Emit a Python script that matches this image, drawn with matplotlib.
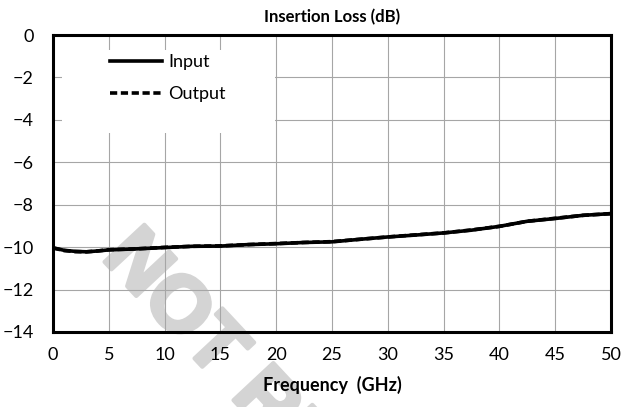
import numpy as np
import matplotlib
matplotlib.use('Agg')
import matplotlib.pyplot as plt
import matplotlib.patheffects as pe
from matplotlib.patches import Rectangle

plt.rcParams['font.family'] = ['Lato', 'DejaVu Sans']

# Tần số (GHz) và suy hao (dB)
FREQ = [0, 1, 2, 3, 4, 5, 7.5, 10, 12.5, 15, 17.5, 20, 22.5, 25, 27.5,
        30, 32.5, 35, 37.5, 40, 42.5, 45, 47.5, 50]
IL_INPUT = [-10.03, -10.15, -10.20, -10.22, -10.18, -10.13, -10.08, -10.02,
            -9.96, -9.95, -9.88, -9.84, -9.78, -9.75, -9.63, -9.52, -9.43,
            -9.33, -9.20, -9.02, -8.78, -8.65, -8.50, -8.42]
IL_OUTPUT = [-10.04, -10.16, -10.21, -10.22, -10.18, -10.12, -10.08, -10.01,
             -9.96, -9.94, -9.88, -9.83, -9.78, -9.74, -9.63, -9.52, -9.42,
             -9.33, -9.19, -9.02, -8.78, -8.64, -8.50, -8.42]

XTICKS = list(range(0, 51, 5))
YTICKS = list(range(-14, 1, 2))

fig = plt.figure(figsize=(6.23, 4.07), dpi=100)
fig.patch.set_facecolor('white')

# watermark phía sau mọi thứ
fig.text(0.162, 0.366, 'NOT RECOMMENDED', rotation=-47, rotation_mode='anchor',
         ha='left', va='baseline', fontsize=57, fontweight='bold',
         color='#d4d4d4', family='Liberation Sans', zorder=-1,
         path_effects=[pe.withStroke(linewidth=3, foreground='#d4d4d4')])

ax = fig.add_axes([53 / 623, 1 - 332 / 407, 558 / 623, 297 / 407])
ax.patch.set_alpha(0)
ax.set_axisbelow(True)

ax.plot(FREQ, IL_INPUT, color='black', lw=2.6, ls='-', label='Input', zorder=3)
ax.plot(FREQ, IL_OUTPUT, color='black', lw=2.6, ls=(0, (2.0, 1.0)), label='Output', zorder=4)

ax.set_xlim(0, 50)
ax.set_ylim(-14, 0)
ax.set_xticks(XTICKS)
ax.set_yticks(YTICKS)
ax.grid(True, color='#a6a6a6', lw=0.8)
ax.tick_params(length=0, labelsize=13)
ax.tick_params(axis='y', pad=14)
ax.tick_params(axis='x', pad=11)
for s in ax.spines.values():
    s.set_linewidth(2.2)
    s.set_color('black')

ax.set_title('Insertion Loss (dB)', fontsize=12, fontweight='bold', pad=9)
ax.set_xlabel('Frequency  (GHz)', fontsize=13, fontweight='bold', labelpad=9)

# nền trắng che lưới sau chú thích
ax.add_patch(Rectangle((9 / 558, 1 - 98 / 297), 213 / 558, 83 / 297,
                       transform=ax.transAxes, facecolor='white',
                       edgecolor='none', zorder=1))
ax.legend(loc='center left', bbox_to_anchor=(57 / 558, 1 - 43 / 297),
          frameon=False, fontsize=13, handlelength=2.9, handletextpad=0.33,
          labelspacing=0.9, borderpad=0, borderaxespad=0)

plt.savefig('out.png', dpi=100)
